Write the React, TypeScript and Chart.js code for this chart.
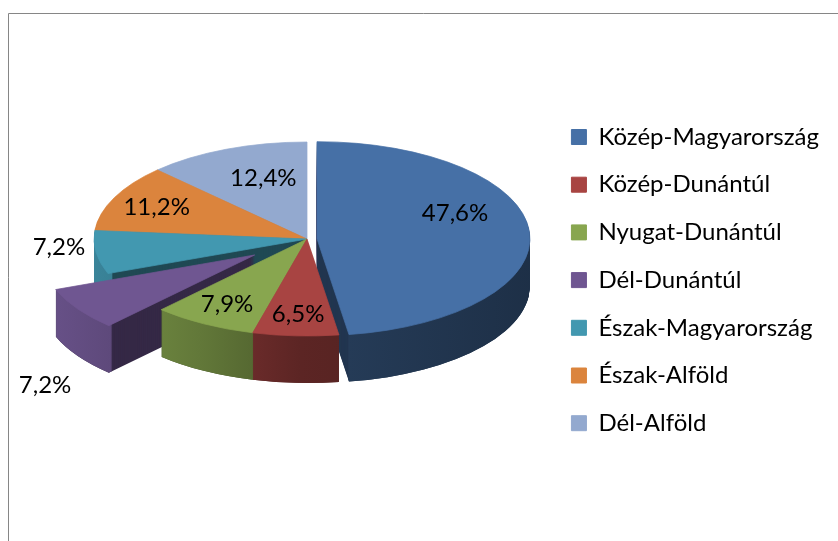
import React, { useEffect, useRef } from 'react';
import { Chart, registerables } from 'chart.js';

Chart.register(...registerables);
Chart.defaults.font.family = 'Lato';

// ---- data ----
const REGIONS = [
  'Közép-Magyarország',
  'Közép-Dunántúl',
  'Nyugat-Dunántúl',
  'Dél-Dunántúl',
  'Észak-Magyarország',
  'Észak-Alföld',
  'Dél-Alföld',
];
const SHARES = [47.6, 6.5, 7.9, 7.2, 7.2, 11.2, 12.4];

// ---- styles ----
const COLORS = ['#4670A6', '#A84442', '#88A64F', '#6F5691', '#4298B0', '#DB843D', '#93A9CF'];
const EXPLODE = [10, 0, 0, 63, 0, 0, 0];
const LABEL_RADIUS = [0.65, 0.78, 0.775, 1.185, 1.176, 0.78, 0.54];
const LABEL_LIFT = [-21, 0, 0, 66, -7, 0, -12];

const PIE_CX = 307;
const PIE_CY = 239;
const PIE_RADIUS = 213;
const TILT = 97 / 213;
const DEPTH = 47;
const CURVE_STOPS: [number, number][] = [[40, 0.95], [200, 0.72], [300, 0.55], [540, 0.42]];
const RADIAL_SHADE = 0.48;

function shade(hex: string, f: number) {
  const n = parseInt(hex.slice(1), 16);
  const r = Math.round(((n >> 16) & 255) * f);
  const g = Math.round(((n >> 8) & 255) * f);
  const b = Math.round((n & 255) * f);
  return `rgb(${r},${g},${b})`;
}

const fmt = (v: number) => v.toFixed(1).replace('.', ',') + '%';

const pie3d = {
  id: 'pie3d',
  beforeDraw(chart: any) {
    const ctx = chart.ctx;
    ctx.save();
    ctx.strokeStyle = '#868686';
    ctx.lineWidth = 1;
    ctx.beginPath();
    ctx.moveTo(8.5, chart.height);
    ctx.lineTo(8.5, 13.5);
    ctx.lineTo(chart.width, 13.5);
    ctx.stroke();
    ctx.restore();
  },
  beforeDatasetsDraw(chart: any) {
    const ctx = chart.ctx;
    const arcs = chart.getDatasetMeta(0).data;
    const info = arcs.map((a: any, i: number) => {
      const mid = (a.startAngle + a.endAngle) / 2;
      const e = EXPLODE[i];
      return { a, i, mid, ex: Math.cos(mid) * e, ey: Math.sin(mid) * e };
    });
    const order = [...info].sort((p: any, q: any) => Math.sin(p.mid) - Math.sin(q.mid));
    const place = (p: any, drop: number) => {
      ctx.translate(PIE_CX, PIE_CY + drop);
      ctx.scale(1, TILT);
      ctx.translate(p.ex - p.a.x, p.ey - p.a.y);
    };
    const fake = (p: any, opts: any, own?: any) => {
      const f = Object.create(p.a);
      f.options = Object.assign({}, p.a.options, { borderWidth: 0, offset: 0, spacing: 0 }, opts);
      if (own) Object.assign(f, own);
      return f;
    };
    // gradients for the curved outer faces
    const grads: any = {};
    for (const p of info) {
      const shift = PIE_CX + p.ex - p.a.x;
      const x0 = CURVE_STOPS[0][0];
      const x1 = CURVE_STOPS[CURVE_STOPS.length - 1][0];
      const g = ctx.createLinearGradient(x0 - shift, 0, x1 - shift, 0);
      for (const [x, f] of CURVE_STOPS) g.addColorStop((x - x0) / (x1 - x0), shade(COLORS[p.i], f));
      grads[p.i] = g;
    }
    // pass A: solid extrusion (radial faces)
    for (let d = DEPTH; d >= 1; d--) {
      for (const p of order) {
        ctx.save();
        place(p, d);
        fake(p, { backgroundColor: shade(COLORS[p.i], RADIAL_SHADE) }).draw(ctx);
        ctx.restore();
      }
    }
    // pass B: curved outer faces
    for (let d = DEPTH; d >= 1; d--) {
      for (const p of order) {
        ctx.save();
        place(p, d);
        fake(p, { backgroundColor: grads[p.i] }, { innerRadius: p.a.outerRadius - 5 }).draw(ctx);
        ctx.restore();
      }
    }
    // top faces
    for (const p of order) {
      ctx.save();
      place(p, 0);
      fake(p, { backgroundColor: COLORS[p.i], borderColor: COLORS[p.i], borderWidth: 1 }).draw(ctx);
      ctx.restore();
    }
    // data labels
    ctx.save();
    ctx.font = '24px Lato';
    ctx.fillStyle = '#000';
    ctx.textAlign = 'center';
    ctx.textBaseline = 'middle';
    for (const p of info) {
      const r = p.a.outerRadius * LABEL_RADIUS[p.i];
      const x = PIE_CX + p.ex + Math.cos(p.mid) * r;
      const y = PIE_CY + (p.ey + Math.sin(p.mid) * r) * TILT + LABEL_LIFT[p.i];
      ctx.fillText(fmt(SHARES[p.i]), x, y);
    }
    ctx.restore();
    return false;
  },
};

export default function App() {
  const ref = useRef<HTMLCanvasElement>(null);
  useEffect(() => {
    const chart = new Chart(ref.current as HTMLCanvasElement, {
      type: 'pie',
      data: {
        labels: REGIONS,
        datasets: [
          {
            data: SHARES,
            backgroundColor: COLORS,
            borderColor: COLORS,
            borderWidth: 1,
            radius: PIE_RADIUS,
            clip: false,
          } as any,
        ],
      },
      options: {
        responsive: false,
        animation: false,
        events: [],
        layout: { padding: { top: 19.2, bottom: 0, left: 0, right: 9 } },
        plugins: {
          legend: {
            position: 'right',
            align: 'center',
            labels: {
              boxWidth: 15,
              boxHeight: 15,
              padding: 23.7,
              color: '#000',
              font: { family: 'Lato', size: 24 },
            },
          },
          tooltip: { enabled: false },
        },
      } as any,
      plugins: [pie3d as any],
    });
    return () => chart.destroy();
  }, []);
  return (
    <div style={{ position: 'fixed', left: 0, top: 0, width: 838, height: 541, background: '#fff' }}>
      <canvas ref={ref} width={838} height={541} />
    </div>
  );
}
